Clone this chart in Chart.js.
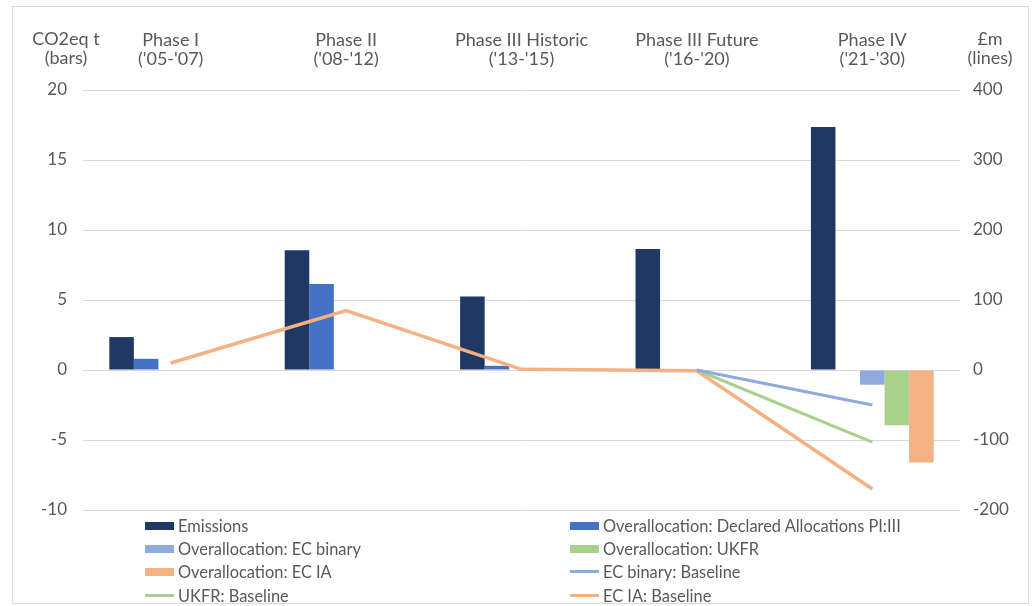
<!DOCTYPE html>
<html>
<head>
<meta charset="utf-8">
<script src="https://cdn.jsdelivr.net/npm/chart.js@4.4.0/dist/chart.umd.min.js"></script>
<style>
  body { margin: 0; background: #fff; font-family: Lato, sans-serif; }
  #frame { position: absolute; left: 12px; top: 6px; width: 1015px; height: 596px; border: 1px solid #d9d9d9; }
  #wrap { position: absolute; left: 13px; top: 7px; width: 1015px; height: 595px; }
  #legend { position: absolute; left: 145px; top: 514px; display: grid; grid-template-columns: 425px 425px; grid-auto-rows: 23.2px; color: #595959; font-size: 16.4px; }
  .item { display: flex; align-items: center; white-space: nowrap; }
  .sw { width: 29px; margin-right: 4px; }
</style>
</head>
<body>
<div id="frame"></div>
<div id="wrap"><canvas id="chart" width="1015" height="595"></canvas></div>
<div id="legend"></div>
<script>
const phases = [
  ['Phase I', "('05-'07)"],
  ['Phase II', "('08-'12)"],
  ['Phase III Historic', "('13-'15)"],
  ['Phase III Future', "('16-'20)"],
  ['Phase IV', "('21-'30)"]
];

// bars, CO2eq t (left axis)
const emissions = [2.35, 8.55, 5.25, 8.65, 17.35];
const declaredAlloc = [0.8, 6.15, 0.3, -0.15, null];
const ecBinaryAlloc = [null, null, null, null, -1.05];
const ukfrAlloc = [null, null, null, null, -3.95];
const ecIaAlloc = [null, null, null, null, -6.6];

// lines, £m (right axis)
const ecBinaryBase = [null, null, null, 0, -50];
const ukfrBase = [null, null, null, 0, -103];
const ecIaBase = [10, 85, 1, -1, -170];

const leftTicks = { min: -10, max: 20, step: 5 };
const rightTicks = { min: -200, max: 400, step: 100 };

const grey = '#595959';

function bar(label, data, color) {
  return { type: 'bar', label, data, backgroundColor: color, borderWidth: 0, yAxisID: 'y', order: 1,
    categoryPercentage: 0.7, barPercentage: 1.0 };
}
function line(label, data, color, w) {
  return { type: 'line', label, data, borderColor: color, backgroundColor: color, borderWidth: w,
    pointRadius: 0, yAxisID: 'y1', order: 0, spanGaps: false, tension: 0 };
}

const axisTitles = {
  id: 'axisTitles',
  afterDraw(chart) {
    const ctx = chart.ctx;
    ctx.save();
    ctx.fillStyle = grey;
    ctx.font = '18px Lato';
    ctx.textAlign = 'center';
    ctx.textBaseline = 'middle';
    ctx.fillText('CO2eq t', 66 - 13, 39 - 7);
    ctx.fillText('(bars)', 66 - 13, 58 - 7);
    ctx.fillText('£m', 990 - 13, 39 - 7);
    ctx.fillText('(lines)', 990 - 13, 58 - 7);
    ctx.restore();
  }
};

const chart = new Chart(document.getElementById('chart'), {
  data: {
    labels: phases,
    datasets: [
      bar('Emissions', emissions, '#1f3864'),
      bar('Overallocation: Declared Allocations PI:III', declaredAlloc, '#4472c4'),
      bar('Overallocation: EC binary', ecBinaryAlloc, '#8faadc'),
      bar('Overallocation: UKFR', ukfrAlloc, '#a9d18e'),
      bar('Overallocation: EC IA', ecIaAlloc, '#f4b183'),
      line('EC binary: Baseline', ecBinaryBase, '#8faadc', 3),
      line('UKFR: Baseline', ukfrBase, '#a9d18e', 3),
      line('EC IA: Baseline', ecIaBase, '#f4b183', 3.5)
    ]
  },
  options: {
    responsive: false,
    animation: false,
    layout: { padding: { bottom: 92 } },
    plugins: { legend: { display: false }, tooltip: { enabled: false } },
    scales: {
      x: {
        position: 'top',
        grid: { display: false },
        border: { display: false },
        ticks: { color: grey, font: { family: 'Lato', size: 18, lineHeight: '19px' }, padding: 13, maxRotation: 0 },
        afterFit(s) { s.height = 83; }
      },
      y: {
        position: 'left',
        min: leftTicks.min, max: leftTicks.max,
        ticks: { stepSize: leftTicks.step, color: grey, font: { family: 'Lato', size: 17 }, padding: 16 },
        grid: { color: '#d9d9d9', lineWidth: 1, drawTicks: false },
        border: { display: false },
        afterFit(s) { s.width = 70; }
      },
      y1: {
        position: 'right',
        min: rightTicks.min, max: rightTicks.max,
        ticks: { stepSize: rightTicks.step, color: grey, font: { family: 'Lato', size: 17 }, padding: 13 },
        grid: { drawOnChartArea: false, drawTicks: false },
        border: { display: false },
        afterFit(s) { s.width = 68; }
      }
    }
  },
  plugins: [axisTitles]
});

// two-column legend built from the datasets
const legend = document.getElementById('legend');
chart.data.datasets.forEach(ds => {
  const item = document.createElement('div');
  item.className = 'item';
  const sw = document.createElement('div');
  sw.className = 'sw';
  sw.style.height = ds.type === 'bar' ? '8px' : '3px';
  sw.style.background = ds.type === 'bar' ? ds.backgroundColor : ds.borderColor;
  item.appendChild(sw);
  item.appendChild(document.createTextNode(ds.label));
  legend.appendChild(item);
});
</script>
</body>
</html>
